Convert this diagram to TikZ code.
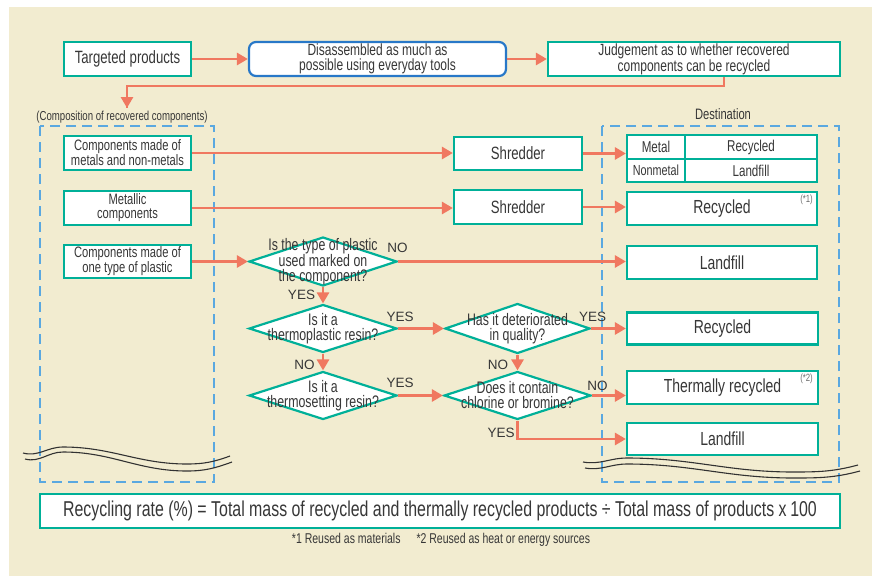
\documentclass[tikz,border=0pt]{standalone}
\usepackage{fontspec}
\setmainfont{Liberation Sans}[FakeStretch=0.74]
\newfontfamily\ynfont{Liberation Sans}
\usetikzlibrary{arrows.meta,shapes.geometric,calc}
\definecolor{bgc}{RGB}{242,236,208}
\definecolor{tealc}{RGB}{0,176,152}
\definecolor{orc}{RGB}{240,120,96}
\definecolor{dblue}{RGB}{90,168,224}
\definecolor{bblue}{RGB}{40,120,200}
\definecolor{txt}{RGB}{55,55,55}
\definecolor{wavec}{RGB}{50,50,50}
\definecolor{notec}{RGB}{110,110,110}
\begin{document}
\begin{tikzpicture}[x=1pt,y=-1pt,
 tbox/.style={draw=tealc, line width=2.2pt, fill=white, inner sep=0pt, text=txt, align=center, minimum height=34pt},
 fbig/.style={font=\fontsize{18.9}{19}\selectfont},
 fmid/.style={font=\fontsize{17.8}{18}\selectfont},
 ftwo/.style={font=\fontsize{16.2}{14.5}\selectfont},
 fcomp/.style={font=\fontsize{15.1}{14}\selectfont},
 ftab/.style={font=\fontsize{15.7}{16}\selectfont},
 dia/.style={diamond, draw=tealc, line width=2.2pt, fill=white, inner sep=0pt, minimum width=148pt, minimum height=49pt},
 dtext/.style={text=txt, align=center, inner sep=0pt, font=\fontsize{16.7}{15}\selectfont},
 flow/.style={draw=orc, line width=2.8pt, -{Triangle[length=11pt,width=12pt]}},
 yn/.style={text=txt, font=\ynfont\fontsize{13.5}{14}\selectfont, inner sep=0pt},
 dashbox/.style={draw=dblue, line width=2pt, dash pattern=on 10pt off 6pt},
 wavy/.style={draw=wavec, line width=1.1pt},
 note/.style={text=notec, inner sep=0pt, font=\fontsize{10.5}{10.5}\selectfont},
 plain/.style={text=txt, inner sep=0pt},
]
\useasboundingbox (0,0) rectangle (874,576);
\fill[white] (0,0) rectangle (874,576);
\fill[bgc] (9,7) rectangle (872,576);

% dashed groups
\draw[dashbox] (40,126) rectangle (214,482);
\draw[dashbox] (602,126) rectangle (839,482);

% top row
\node[tbox, fmid, minimum width=127pt] (tp) at (127.5,59) {Targeted products};
\node[tbox, ftwo, draw=bblue, rounded corners=7pt, minimum width=257pt] (dis) at (377.5,59) {Disassembled as much as\\possible using everyday tools};
\node[tbox, ftwo, minimum width=292pt] (jud) at (694,59) {Judgement as to whether recovered\\components can be recycled};

\node[plain, font=\fontsize{13}{13}\selectfont] (complab) at (122,117) {(Composition of recovered components)};
\node[plain, font=\fontsize{15.1}{15}\selectfont] (destlab) at (723,114) {Destination};

% components
\node[tbox, fcomp, minimum width=127pt] (m1) at (127.5,153) {Components made of\\metals and non-metals};
\node[tbox, fcomp, minimum width=127pt] (m2) at (127.5,208) {Metallic\\components};
\node[tbox, fcomp, minimum width=127pt, minimum height=33pt] (m3) at (127.5,261.5) {Components made of\\one type of plastic};

% shredders
\node[tbox, fmid, minimum width=128pt, minimum height=33pt] (sh1) at (518,153.5) {Shredder};
\node[tbox, fmid, minimum width=128pt] (sh2) at (518,207) {Shredder};

% table
\node[tbox, ftab, minimum width=58pt, minimum height=24pt] (tmetal) at (656,147) {Metal};
\node[tbox, ftab, minimum width=132pt, minimum height=24pt] (trec) at (751,147) {Recycled};
\node[tbox, font=\fontsize{14.6}{15}\selectfont, minimum width=58pt, minimum height=23pt] (tnon) at (656,170.5) {Nonmetal};
\node[tbox, ftab, minimum width=132pt, minimum height=23pt] (tland) at (751,170.5) {Landfill};

% destinations
\node[tbox, fbig, minimum width=190pt, minimum height=33pt] (rec1) at (722,208.5) {Recycled};
\node[note] (n1) at (806.5,200) {(*1)};
\node[tbox, fbig, minimum width=190pt, minimum height=33pt] (land1) at (722,262.5) {Landfill};
\node[tbox, fbig, minimum width=191pt, minimum height=32pt] (rec2) at (722.5,328.5) {Recycled};
\node[tbox, fbig, minimum width=191pt, minimum height=33pt] (therm) at (722.5,387.5) {Thermally recycled};
\node[note] (n2) at (806.5,379) {(*2)};
\node[tbox, fbig, minimum width=191pt, minimum height=32pt] (land2) at (722.5,439) {Landfill};

% diamonds
\node[dia] (d1) at (323,261.5) {};
\node[dtext] (d1t) at (d1) {Is the type of plastic\\used marked on\\the component?};
\node[dia, minimum height=48pt] (d2) at (323,328.5) {};
\node[dtext] (d2t) at (d2) {Is it a\\thermoplastic resin?};
\node[dia, minimum width=145pt, minimum height=50pt] (d3) at (517.5,328.5) {};
\node[dtext] (d3t) at (d3) {Has it deteriorated\\in quality?};
\node[dia, minimum height=48pt] (d4) at (323,395.5) {};
\node[dtext] (d4t) at (d4) {Is it a\\thermosetting resin?};
\node[dia, minimum width=147pt, minimum height=48pt] (d5) at (517.5,395.5) {};
\node[dtext] (d5t) at (d5) {Does it contain\\chlorine or bromine?};

% connectors
\coordinate (jb) at (724,86);
\coordinate (comp) at (127,108);
\draw[flow] (tp) -- (dis);
\draw[flow] (dis) -- (jud);
\draw[flow, -] (jb |- jud.south) -- (jb) -| (comp);
\draw[flow] (comp |- jb) -- (comp);
\draw[flow] (m1.east) -- (m1.east -| sh1.west);
\draw[flow] (m2.east) -- (m2.east -| sh2.west);
\draw[flow] (sh1.east) -- (sh1.east -| tmetal.west);
\draw[flow] (sh2.east) -- (sh2.east -| rec1.west);
\draw[flow] (m3.east) -- (d1.west);
\draw[flow] (d1.east) -- (d1.east -| land1.west);
\draw[flow] (d1.south) -- (d2.north);
\draw[flow] (d2.east) -- (d3.west);
\draw[flow] (d3.east) -- (rec2.west);
\draw[flow] (d2.south) -- (d4.north);
\draw[flow] (d4.east) -- (d5.west);
\draw[flow] (d3.south) -- (d5.north);
\draw[flow] (d5.east) -- (d5.east -| therm.west);
\draw[flow] (d5.south) |- (land2.west);

% yes / no labels
\node[yn] (l1) at (397.5,248) {NO};
\node[yn] (l2) at (301.5,295) {YES};
\node[yn] (l3) at (400,317) {YES};
\node[yn] (l4) at (592.5,317) {YES};
\node[yn] (l5) at (304.5,364.5) {NO};
\node[yn] (l6) at (400,383) {YES};
\node[yn] (l7) at (498,364.5) {NO};
\node[yn] (l8) at (597.5,385.5) {NO};
\node[yn] (l9) at (501,432.5) {YES};

% wavy breaks
\draw[wavy] (23,453) to[out=-15,in=180] (63,447) to[out=0,in=180] (187,464) to[out=0,in=200] (230,456);
\draw[wavy] (25,459) to[out=-15,in=180] (63,452) to[out=0,in=180] (187,471) to[out=0,in=200] (232,462);
\draw[wavy] (583,462) to[out=-10,in=180] (627,458) to[out=0,in=180] (793,472) to[out=0,in=195] (858,465);
\draw[wavy] (585,468) to[out=-10,in=180] (627,464) to[out=0,in=180] (793,478) to[out=0,in=195] (860,471);

% formula
\node[tbox, font=\fontsize{21.5}{21.5}\selectfont, minimum width=800pt, minimum height=34pt] (rate) at (440,511) {Recycling rate (\%) = Total mass of recycled and thermally recycled products ÷ Total mass of products x\,100};
\node[plain, font=\fontsize{14.2}{14.2}\selectfont] (foot) at (441,540) {*1 Reused as materials\hspace{16pt}*2 Reused as heat or energy sources};
\end{tikzpicture}
\end{document}
